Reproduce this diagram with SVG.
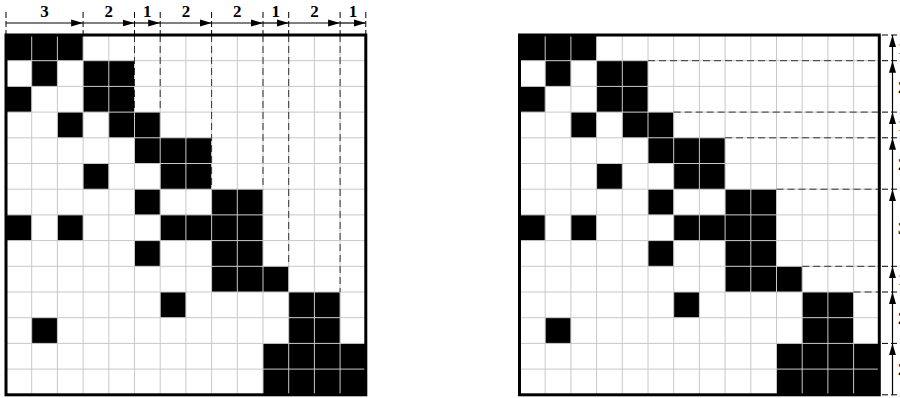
<svg xmlns="http://www.w3.org/2000/svg" xmlns:xlink="http://www.w3.org/1999/xlink" width="900" height="398" viewBox="0 0 900 398">
<style>
.blk{fill:#000}
.grid{fill:none;stroke:#c8c8c8;stroke-width:1}
.border{fill:none;stroke:#000;stroke-width:3}
.dash{fill:none;stroke:#333;stroke-width:1;stroke-dasharray:7,4}
.tick{fill:none;stroke:#000;stroke-width:1;stroke-dasharray:6,3}
.arr{fill:none;stroke:#000;stroke-width:1.2}
.lbl{font-family:"Liberation Serif","Times New Roman",serif;font-weight:bold;font-size:17px;fill:#000}
</style>
<defs>
<marker id="ah" markerWidth="12" markerHeight="8" refX="12" refY="4" orient="auto" markerUnits="userSpaceOnUse">
<path d="M0,0.5 L12,4 L0,7.5 Z" fill="#000"/>
</marker>
<g id="cells">
<rect class="blk" x="0" y="0" width="77.1" height="25.7"/>
<rect class="blk" x="25.7" y="25.7" width="25.7" height="25.7"/>
<rect class="blk" x="77.1" y="25.7" width="51.4" height="25.7"/>
<rect class="blk" x="0" y="51.4" width="25.7" height="25.7"/>
<rect class="blk" x="77.1" y="51.4" width="51.4" height="25.7"/>
<rect class="blk" x="51.4" y="77.1" width="25.7" height="25.7"/>
<rect class="blk" x="102.8" y="77.1" width="51.4" height="25.7"/>
<rect class="blk" x="128.5" y="102.8" width="77.1" height="25.7"/>
<rect class="blk" x="77.1" y="128.5" width="25.7" height="25.7"/>
<rect class="blk" x="154.2" y="128.5" width="51.4" height="25.7"/>
<rect class="blk" x="128.5" y="154.2" width="25.7" height="25.7"/>
<rect class="blk" x="205.6" y="154.2" width="51.4" height="25.7"/>
<rect class="blk" x="0" y="179.9" width="25.7" height="25.7"/>
<rect class="blk" x="51.4" y="179.9" width="25.7" height="25.7"/>
<rect class="blk" x="154.2" y="179.9" width="102.8" height="25.7"/>
<rect class="blk" x="128.5" y="205.6" width="25.7" height="25.7"/>
<rect class="blk" x="205.6" y="205.6" width="51.4" height="25.7"/>
<rect class="blk" x="205.6" y="231.3" width="77.1" height="25.7"/>
<rect class="blk" x="154.2" y="257" width="25.7" height="25.7"/>
<rect class="blk" x="282.7" y="257" width="51.4" height="25.7"/>
<rect class="blk" x="25.7" y="282.7" width="25.7" height="25.7"/>
<rect class="blk" x="282.7" y="282.7" width="51.4" height="25.7"/>
<rect class="blk" x="257" y="308.4" width="102.8" height="51.4"/>
</g>
<path id="gridlines" class="grid" d="M25.7,0V359.8M51.4,0V359.8M77.1,0V359.8M102.8,0V359.8M128.5,0V359.8M154.2,0V359.8M179.9,0V359.8M205.6,0V359.8M231.3,0V359.8M257,0V359.8M282.7,0V359.8M308.4,0V359.8M334.1,0V359.8M0,25.7H359.8M0,51.4H359.8M0,77.1H359.8M0,102.8H359.8M0,128.5H359.8M0,154.2H359.8M0,179.9H359.8M0,205.6H359.8M0,231.3H359.8M0,257H359.8M0,282.7H359.8M0,308.4H359.8M0,334.1H359.8"/>
</defs>

<g id="matrix-left" transform="translate(6,35)">
<rect x="0" y="0" width="359.8" height="359.8" fill="#fff"/>
<use xlink:href="#cells"/>
<use xlink:href="#gridlines"/>
<path class="dash" d="M128.5,0V77.1M154.2,0V77.1M205.6,0V154.2M257,0V154.2M282.7,0V231.3M334.1,0V257"/>
<rect class="border" x="0" y="0" width="359.8" height="359.8"/>
</g>

<g id="matrix-right" transform="translate(519.5,35)">
<rect x="0" y="0" width="359.8" height="359.8" fill="#fff"/>
<use xlink:href="#cells"/>
<use xlink:href="#gridlines"/>
<path class="dash" d="M128.5,25.7H359.8M154.2,77.1H359.8M205.6,102.8H359.8M257,154.2H359.8M282.7,231.3H359.8M334.1,257H359.8"/>
<rect class="border" x="0" y="0" width="359.8" height="359.8"/>
</g>

<g id="connectors">
<g id="top-ticks">
<path class="tick" d="M6,12V35M83.1,12V35M134.5,12V35M160.2,12V35M211.6,12V35M263,12V35M288.7,12V35M340.1,12V35M365.8,12V35"/>
</g>
<g id="top-arrows">
<line class="arr" x1="6" y1="23" x2="83.1" y2="23" marker-end="url(#ah)"/>
<line class="arr" x1="83.1" y1="23" x2="134.5" y2="23" marker-end="url(#ah)"/>
<line class="arr" x1="134.5" y1="23" x2="160.2" y2="23" marker-end="url(#ah)"/>
<line class="arr" x1="160.2" y1="23" x2="211.6" y2="23" marker-end="url(#ah)"/>
<line class="arr" x1="211.6" y1="23" x2="263" y2="23" marker-end="url(#ah)"/>
<line class="arr" x1="263" y1="23" x2="288.7" y2="23" marker-end="url(#ah)"/>
<line class="arr" x1="288.7" y1="23" x2="340.1" y2="23" marker-end="url(#ah)"/>
<line class="arr" x1="340.1" y1="23" x2="365.8" y2="23" marker-end="url(#ah)"/>
</g>
<g id="right-ticks">
<path class="tick" d="M882,35H904M882,60.7H904M882,112.1H904M882,137.8H904M882,189.2H904M882,266.3H904M882,292H904M882,343.4H904M882,394.8H904"/>
</g>
<g id="right-arrows">
<line class="arr" x1="892.5" y1="60.7" x2="892.5" y2="35" marker-end="url(#ah)"/>
<line class="arr" x1="892.5" y1="112.1" x2="892.5" y2="60.7" marker-end="url(#ah)"/>
<line class="arr" x1="892.5" y1="137.8" x2="892.5" y2="112.1" marker-end="url(#ah)"/>
<line class="arr" x1="892.5" y1="189.2" x2="892.5" y2="137.8" marker-end="url(#ah)"/>
<line class="arr" x1="892.5" y1="266.3" x2="892.5" y2="189.2" marker-end="url(#ah)"/>
<line class="arr" x1="892.5" y1="292" x2="892.5" y2="266.3" marker-end="url(#ah)"/>
<line class="arr" x1="892.5" y1="343.4" x2="892.5" y2="292" marker-end="url(#ah)"/>
<line class="arr" x1="892.5" y1="394.8" x2="892.5" y2="343.4" marker-end="url(#ah)"/>
</g>
</g>

<g id="labels-top" text-anchor="middle">
<text class="lbl" x="44.5" y="17">3</text>
<text class="lbl" x="108.8" y="17">2</text>
<text class="lbl" x="147.3" y="17">1</text>
<text class="lbl" x="185.9" y="17">2</text>
<text class="lbl" x="237.3" y="17">2</text>
<text class="lbl" x="275.8" y="17">1</text>
<text class="lbl" x="314.4" y="17">2</text>
<text class="lbl" x="353" y="17">1</text>
</g>
<g id="labels-right">
<text class="lbl" x="898" y="54">1</text>
<text class="lbl" x="898" y="92.5">2</text>
<text class="lbl" x="898" y="131">1</text>
<text class="lbl" x="898" y="169.5">2</text>
<text class="lbl" x="898" y="234">3</text>
<text class="lbl" x="898" y="285.2">1</text>
<text class="lbl" x="898" y="323.7">2</text>
<text class="lbl" x="898" y="375">2</text>
</g>
</svg>
